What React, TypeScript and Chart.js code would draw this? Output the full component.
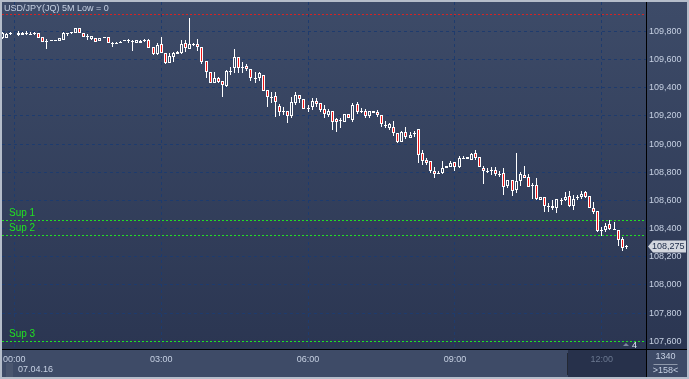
import React, { useEffect, useRef } from 'react';
import { Chart, registerables } from 'chart.js';

Chart.register(...registerables);

// ---------- data ----------
const FIRST_INDEX = -3; // first candle is three 5-minute bars before 00:00

const opens = [
  109.754, 109.754, 109.785, null, 109.775, 109.773, 109.785, 109.785, 109.785, 109.787,
  109.763, 109.732, 109.730, 109.739, 109.732, 109.737, 109.789, 109.796, 109.791, 109.822,
  109.791, 109.768, 109.749, 109.751, 109.734, 109.759, 109.763, 109.720, 109.718, 109.727,
  109.739, 109.743, 109.732, 109.716, 109.716, 109.743, 109.739, 109.692, 109.640, 109.711,
  109.649, 109.579, 109.621, 109.656, 109.645, 109.720, 109.678, 109.708, 109.709, 109.692,
  109.591, 109.515, 109.437, 109.468, 109.449, 109.413, 109.520, 109.539, 109.617, 109.550,
  109.555, 109.532, 109.472, 109.468, 109.491, 109.385, 109.333, 109.342, 109.272, 109.236,
  109.236, 109.203, 109.295, 109.349, 109.319, 109.255, 109.262, 109.309, 109.295, 109.248,
  109.208, 109.236, 109.177, 109.172, 109.160, 109.213, 109.172, 109.286, 109.236, 109.236,
  109.201, 109.220, 109.231, 109.208, 109.137, 109.118, 109.125, 109.078, 109.018, 109.085,
  109.047, 109.078, 109.108, 108.936, 108.889, 108.877, 108.811, 108.794, 108.794, 108.830,
  108.841, 108.872, 108.841, 108.905, 108.896, 108.889, 108.940, 108.912, 108.834, 108.806,
  108.813, 108.818, 108.789, 108.794, 108.704, 108.742, 108.671, 108.735, 108.782, 108.766,
  108.711, 108.711, 108.605, 108.624, 108.558, 108.563, 108.546, 108.605, 108.605, 108.633,
  108.563, 108.624, 108.624, 108.657, 108.633, 108.548, 108.522, 108.392, 108.387, 108.433,
  108.397, 108.392, 108.326, 108.274,
];

const highs = [
  109.796, 109.789, 109.796, null, 109.803, 109.798, 109.803, 109.794, 109.794, 109.789,
  109.763, 109.744, 109.742, 109.742, 109.756, 109.794, 109.791, 109.798, 109.822, 109.822,
  109.791, 109.780, 109.768, 109.751, 109.756, 109.761, 109.763, 109.727, 109.727, 109.730,
  109.742, 109.747, 109.739, 109.739, 109.739, 109.747, 109.747, 109.692, 109.716, 109.759,
  109.649, 109.647, 109.656, 109.664, 109.739, 109.739, 109.893, 109.716, 109.744, 109.692,
  109.591, 109.515, 109.515, 109.479, 109.449, 109.527, 109.550, 109.674, 109.617, 109.586,
  109.569, 109.532, 109.510, 109.510, 109.491, 109.385, 109.373, 109.373, 109.284, 109.262,
  109.236, 109.333, 109.373, 109.349, 109.319, 109.279, 109.326, 109.326, 109.295, 109.279,
  109.250, 109.236, 109.189, 109.189, 109.213, 109.213, 109.291, 109.302, 109.259, 109.248,
  109.236, 109.238, 109.243, 109.208, 109.165, 109.149, 109.165, 109.078, 109.094, 109.125,
  109.089, 109.094, 109.108, 108.960, 108.901, 108.877, 108.841, 108.806, 108.882, 108.846,
  108.877, 108.872, 108.917, 108.919, 108.912, 108.936, 108.960, 108.912, 108.846, 108.830,
  108.837, 108.837, 108.806, 108.830, 108.742, 108.742, 108.936, 108.799, 108.846, 108.789,
  108.723, 108.759, 108.628, 108.624, 108.582, 108.605, 108.610, 108.617, 108.657, 108.664,
  108.640, 108.640, 108.669, 108.669, 108.633, 108.586, 108.522, 108.411, 108.440, 108.463,
  108.444, 108.392, 108.338, 108.286,
];

const lows = [
  109.750, 109.754, 109.775, null, 109.771, 109.773, 109.773, 109.782, 109.777, 109.751,
  109.723, 109.678, 109.730, 109.737, 109.732, 109.737, 109.770, 109.780, 109.791, 109.787,
  109.759, 109.739, 109.739, 109.725, 109.734, 109.756, 109.720, 109.690, 109.711, 109.725,
  109.737, 109.716, 109.664, 109.716, 109.716, 109.727, 109.681, 109.633, 109.633, 109.649,
  109.569, 109.574, 109.583, 109.638, 109.640, 109.656, 109.674, 109.699, 109.664, 109.569,
  109.468, 109.432, 109.432, 109.437, 109.337, 109.404, 109.491, 109.503, 109.503, 109.503,
  109.522, 109.451, 109.437, 109.451, 109.380, 109.262, 109.291, 109.196, 109.201, 109.208,
  109.149, 109.184, 109.281, 109.291, 109.248, 109.231, 109.243, 109.267, 109.231, 109.184,
  109.196, 109.101, 109.089, 109.118, 109.156, 109.184, 109.160, 109.213, 109.220, 109.189,
  109.189, 109.220, 109.196, 109.125, 109.113, 109.101, 109.061, 109.007, 109.014, 109.038,
  109.043, 109.054, 108.865, 108.853, 108.853, 108.794, 108.759, 108.787, 108.787, 108.830,
  108.841, 108.811, 108.834, 108.896, 108.896, 108.884, 108.889, 108.837, 108.718, 108.794,
  108.782, 108.775, 108.770, 108.640, 108.692, 108.633, 108.653, 108.704, 108.759, 108.695,
  108.610, 108.600, 108.605, 108.515, 108.515, 108.534, 108.511, 108.570, 108.593, 108.553,
  108.534, 108.605, 108.610, 108.617, 108.546, 108.506, 108.373, 108.345, 108.373, 108.387,
  108.387, 108.274, 108.243, 108.256,
];

const closes = [
  109.789, 109.785, 109.789, null, 109.789, 109.787, 109.789, 109.785, 109.787, 109.751,
  109.723, 109.732, 109.742, 109.739, 109.756, 109.787, 109.789, 109.796, 109.822, 109.787,
  109.763, 109.768, 109.768, 109.725, 109.756, 109.759, 109.720, 109.720, 109.718, 109.727,
  109.739, 109.743, 109.732, 109.739, 109.734, 109.743, 109.681, 109.640, 109.704, 109.649,
  109.579, 109.626, 109.649, 109.638, 109.709, 109.681, 109.711, 109.708, 109.688, 109.586,
  109.515, 109.432, 109.468, 109.444, 109.418, 109.520, 109.520, 109.617, 109.539, 109.550,
  109.532, 109.468, 109.472, 109.503, 109.380, 109.333, 109.333, 109.302, 109.231, 109.236,
  109.203, 109.300, 109.349, 109.319, 109.248, 109.255, 109.309, 109.286, 109.243, 109.213,
  109.236, 109.160, 109.156, 109.172, 109.213, 109.184, 109.279, 109.231, 109.236, 109.201,
  109.236, 109.238, 109.208, 109.142, 109.137, 109.142, 109.078, 109.018, 109.089, 109.054,
  109.066, 109.078, 108.924, 108.882, 108.865, 108.806, 108.787, 108.794, 108.834, 108.846,
  108.869, 108.841, 108.905, 108.905, 108.912, 108.931, 108.901, 108.837, 108.806, 108.806,
  108.813, 108.789, 108.789, 108.699, 108.742, 108.664, 108.740, 108.787, 108.763, 108.699,
  108.711, 108.610, 108.628, 108.563, 108.558, 108.546, 108.610, 108.605, 108.628, 108.563,
  108.610, 108.624, 108.645, 108.624, 108.546, 108.515, 108.380, 108.392, 108.421, 108.397,
  108.397, 108.316, 108.263, 108.275,
];

const timeTickValues = [0, 36, 72, 108, 144];
const timeTickLabels = ['00:00', '03:00', '06:00', '09:00', '12:00'];

const levelValues = [109.922, 108.461, 108.357, 107.605];
const levelLabels = ['', 'Sup 1', 'Sup 2', 'Sup 3'];
const levelColors = ['#d42424', '#22e022', '#22e022', '#22e022'];

const TITLE = 'USD/JPY(JQ) 5M Low = 0';
const LAST_PRICE = 108.275;
const DATE_LABEL = '07.04.16';
const INFO_TOP = '1340';
const INFO_BOTTOM = '>158<';
const COUNT_LABEL = '4';
const SHADE_FROM = 135.7; // x value where the darker time-axis band begins

// ---------- style ----------
const X_MIN = -3.015;
const X_MAX = 154.83;
const Y_MIN = 107.5454;
const Y_MAX = 110.0095;
const FONT = "'Liberation Sans', Arial, sans-serif";
const PLOT_TOP = [61, 75, 104];
const PLOT_BOTTOM = [43, 54, 82];
const RED = '#ee1414';
const GRID = '#1e3b6d';
const LABEL = '#c6d0e2';

const rgb = (c: number[]) => `rgb(${c[0]},${c[1]},${c[2]})`;
function bgAt(v: number) {
  const f = Math.min(1, Math.max(0, (Y_MAX - v) / (Y_MAX - Y_MIN)));
  return rgb(PLOT_TOP.map((t, k) => Math.round(t + (PLOT_BOTTOM[k] - t) * f)));
}
const fmt = (v: number) => v.toFixed(3).replace('.', ',');

export default function App() {
  const ref = useRef<HTMLCanvasElement>(null);

  useEffect(() => {
    document.body.style.margin = '0';
    const wickData: any[] = [];
    const bodyData: any[] = [];
    opens.forEach((o, k) => {
      if (o == null) return;
      const x = FIRST_INDEX + k;
      wickData.push({ x, y: [lows[k], highs[k]] });
      bodyData.push({ x, y: [o, closes[k]] });
    });

    const snapPlugin = {
      id: 'snap',
      beforeDatasetsDraw(chart: any) {
        chart.data.datasets.forEach((_: any, di: number) => {
          const meta = chart.getDatasetMeta(di);
          meta.data.forEach((el: any) => {
            el.x = Math.floor(el.x) + 0.5;
            el.y = Math.round(el.y);
            el.base = Math.round(el.base);
            if (el.base === el.y) el.base = el.y + 1;
          });
        });
        // level lines
        const { ctx, chartArea: a, scales } = chart;
        ctx.save();
        ctx.beginPath();
        ctx.rect(a.left, a.top, a.right - a.left, a.bottom - a.top);
        ctx.clip();
        ctx.lineWidth = 1;
        ctx.setLineDash([2, 2]);
        levelValues.forEach((v, k) => {
          const y = Math.round(scales.y.getPixelForValue(v)) + 0.5;
          ctx.strokeStyle = levelColors[k];
          ctx.beginPath();
          ctx.moveTo(a.left, y);
          ctx.lineTo(a.right, y);
          ctx.stroke();
        });
        ctx.restore();
      },
    };

    const bgPlugin = {
      id: 'bg',
      beforeDraw(chart: any) {
        const { ctx, chartArea: a, width: W, height: H, scales } = chart;
        ctx.save();
        ctx.fillStyle = '#b5bdca';
        ctx.fillRect(0, 0, W, H);
        const g = ctx.createLinearGradient(0, a.top, 0, a.bottom);
        g.addColorStop(0, rgb(PLOT_TOP));
        g.addColorStop(1, rgb(PLOT_BOTTOM));
        ctx.fillStyle = g;
        ctx.fillRect(2, 2, W - 4, a.bottom - 2);
        ctx.fillStyle = '#3e4b67';
        ctx.fillRect(2, a.bottom, W - 4, H - 2 - a.bottom);
        const sx = Math.round(scales.x.getPixelForValue(SHADE_FROM));
        ctx.fillStyle = '#27314b';
        ctx.fillRect(sx, a.bottom + 1, a.right - sx, H - 3 - a.bottom);
        ctx.fillStyle = '#232833';
        ctx.fillRect(sx - 1, a.bottom + 4, 1, H - 8 - a.bottom);
        ctx.restore();
      },
      afterDraw(chart: any) {
        const { ctx, chartArea: a, width: W, height: H, scales } = chart;
        ctx.save();
        // separators
        ctx.fillStyle = '#000000';
        ctx.fillRect(a.right, 2, 1, H - 4);
        ctx.fillRect(2, a.bottom, W - 4, 1);
        // title
        ctx.font = `9px ${FONT}`;
        ctx.textBaseline = 'top';
        ctx.textAlign = 'left';
        ctx.fillStyle = LABEL;
        ctx.fillText(TITLE, 4, 4);
        // level labels
        ctx.font = `10px ${FONT}`;
        ctx.textBaseline = 'alphabetic';
        levelValues.forEach((v, k) => {
          if (!levelLabels[k]) return;
          const y = Math.round(scales.y.getPixelForValue(v));
          ctx.fillStyle = levelColors[k];
          ctx.fillText(levelLabels[k], 9, y - 4);
        });
        // last price tag
        const py = Math.round(scales.y.getPixelForValue(LAST_PRICE)) + 0.5;
        ctx.fillStyle = '#d3d7df';
        ctx.beginPath();
        ctx.moveTo(a.right + 2, py);
        ctx.lineTo(a.right + 7, py - 6);
        ctx.lineTo(W - 3, py - 6);
        ctx.lineTo(W - 3, py + 6);
        ctx.lineTo(a.right + 7, py + 6);
        ctx.closePath();
        ctx.fill();
        ctx.font = `9px ${FONT}`;
        ctx.textBaseline = 'middle';
        ctx.fillStyle = '#1b2a48';
        ctx.fillText(fmt(LAST_PRICE), a.right + 6, py + 0.5);
        // count marker
        ctx.fillStyle = '#7c879b';
        ctx.beginPath();
        ctx.moveTo(623, a.bottom - 3);
        ctx.lineTo(626, a.bottom - 6);
        ctx.lineTo(629, a.bottom - 3);
        ctx.closePath();
        ctx.fill();
        ctx.fillStyle = '#e4ecf6';
        ctx.textBaseline = 'alphabetic';
        ctx.fillText(COUNT_LABEL, 632, a.bottom - 1);
        // date
        ctx.fillStyle = '#4a566f';
        ctx.fillRect(6, a.bottom + 14, 7, H - a.bottom - 16);
        ctx.fillStyle = LABEL;
        ctx.textBaseline = 'middle';
        ctx.fillText(DATE_LABEL, 18, a.bottom + 21);
        // info box
        ctx.textAlign = 'center';
        const cx = (a.right + W) / 2 - 2;
        ctx.fillText(INFO_TOP, cx, a.bottom + 8);
        ctx.fillText(INFO_BOTTOM, cx, a.bottom + 22);
        ctx.fillStyle = '#8e98aa';
        ctx.fillRect(cx - 12, a.bottom + 15, 24, 1);
        ctx.restore();
      },
    };

    const chart = new Chart(ref.current as HTMLCanvasElement, {
      type: 'bar',
      data: {
        datasets: [
          {
            label: 'body',
            data: bodyData,
            order: 0,
            grouped: false,
            barThickness: 3,
            borderWidth: 1,
            borderSkipped: false,
            inflateAmount: 0,
            borderColor: '#ffffff',
            backgroundColor: (c: any) => {
              const r = c.raw;
              if (!r) return '#ffffff';
              const [o, cl] = r.y;
              if (Math.abs(o - cl) < 0.0015) return '#ffffff';
              if (cl < o) return RED;
              return bgAt((o + cl) / 2);
            },
          } as any,
          {
            label: 'wick',
            data: wickData,
            order: 1,
            grouped: false,
            barThickness: 1,
            borderWidth: 0,
            inflateAmount: 0,
            backgroundColor: '#ffffff',
          } as any,
        ],
      },
      options: {
        responsive: false,
        animation: false,
        events: [],
        layout: { padding: { left: 2, top: 2, right: 0, bottom: 0 } },
        plugins: { legend: { display: false }, tooltip: { enabled: false } },
        scales: {
          x: {
            type: 'linear',
            position: 'bottom',
            min: X_MIN,
            max: X_MAX,
            offset: false,
            grid: { color: GRID, drawTicks: false, offset: false, lineWidth: 1 },
            border: { display: false, dash: [3, 3] },
            ticks: {
              stepSize: 36,
              includeBounds: false,
              autoSkip: false,
              maxRotation: 0,
              padding: 5,
              font: { family: FONT, size: 9 },
              color: (c: any) => (c.tick && c.tick.value === 144 ? '#6b7890' : LABEL),
              callback: (v: any) => {
                const i = timeTickValues.indexOf(Number(v));
                return i >= 0 ? timeTickLabels[i] : '';
              },
            },
            afterFit: (s: any) => {
              s.height = 30;
              s.paddingLeft = 0;
              s.paddingRight = 0;
            },
          } as any,
          y: {
            type: 'linear',
            position: 'right',
            min: Y_MIN,
            max: Y_MAX,
            grid: { color: GRID, drawTicks: false, lineWidth: 1 },
            border: { display: false, dash: [3, 3] },
            ticks: {
              stepSize: 0.2,
              includeBounds: false,
              padding: 3,
              font: { family: FONT, size: 9 },
              color: LABEL,
              callback: (v: any) => fmt(Number(v)),
            },
            afterBuildTicks: (s: any) => {
              s.ticks = s.ticks.filter((t: any) => t.value < 109.9);
            },
            afterFit: (s: any) => {
              s.width = 43;
              s.paddingTop = 0;
              s.paddingBottom = 0;
            },
          } as any,
        },
      },
      plugins: [bgPlugin, snapPlugin],
    });
    return () => chart.destroy();
  }, []);

  return (
    <div style={{ width: 689, height: 379 }}>
      <canvas ref={ref} width={689} height={379} style={{ display: 'block' }} />
    </div>
  );
}
